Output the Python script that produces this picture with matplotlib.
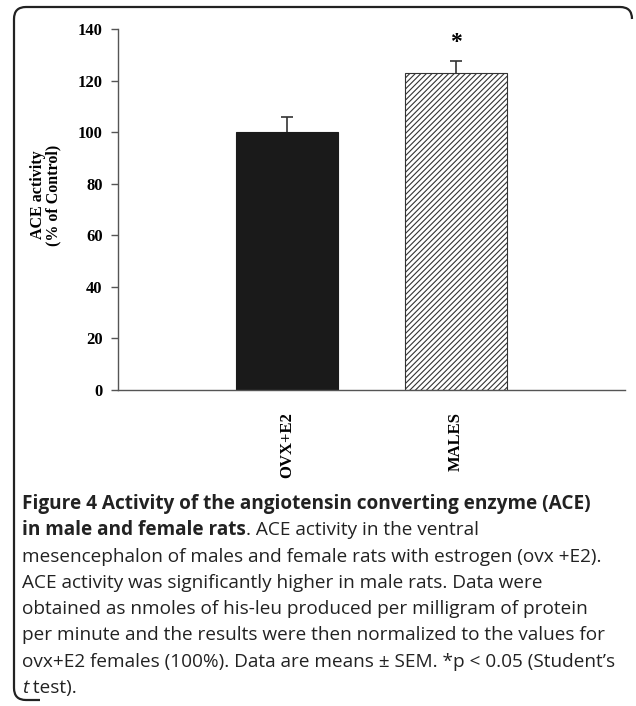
import matplotlib
matplotlib.use('Agg')
import matplotlib.pyplot as plt
from matplotlib.path import Path
from matplotlib.patches import PathPatch

# data
groups = ['OVX+E2', 'MALES']
activity = [100.0, 122.8]      # % of control
sem = [6.0, 4.8]
signif = ['', '*']

W, H = 636, 706
fig = plt.figure(figsize=(W / 100, H / 100), dpi=100)
plt.rcParams['hatch.linewidth'] = 0.8

def fx(px):
    return px / W

def fy(py):
    return 1 - py / H

# chart area (pixel box)
ax = fig.add_axes([fx(118), fy(390), fx(625) - fx(118), fy(29) - fy(390)])
serif = 'Liberation Serif'

pos = [1, 2]
# error bars go under the bars so only the upper half shows
ax.errorbar(pos, activity, yerr=sem, fmt='none', ecolor='#333333',
            elinewidth=1.2, capsize=4, capthick=1.2, zorder=1)
bars = ax.bar(pos, activity, width=0.6, color=['#1a1a1a', 'white'],
              edgecolor=['#1a1a1a', '#333333'], linewidth=0.8, zorder=2)
bars[1].set_hatch('//////')
for p, v, e, s in zip(pos, activity, sem, signif):
    if s:
        ax.annotate(s, (p, v + e), xytext=(0, 6), textcoords='offset points',
                    ha='center', va='bottom', fontsize=17, fontfamily=serif,
                    fontweight='bold')

ax.set_xlim(0, 3)
ax.set_ylim(0, 140)
ax.set_yticks(range(0, 141, 20))
ax.set_xticks(pos)
ax.set_xticklabels(groups, rotation=90, fontfamily=serif, fontweight='bold', fontsize=12)
ax.tick_params(axis='x', length=0, pad=16)
ax.tick_params(axis='y', length=5, width=1, color='#555555', pad=6)
for lbl in ax.get_yticklabels():
    lbl.set_fontfamily(serif)
    lbl.set_fontweight('bold')
    lbl.set_fontsize(12)
for side in ['top', 'right']:
    ax.spines[side].set_visible(False)
for side in ['left', 'bottom']:
    ax.spines[side].set_color('#555555')
    ax.spines[side].set_linewidth(1)
ax.set_ylabel('ACE activity\n(% of Control)', fontfamily=serif, fontweight='bold',
              fontsize=11.5, linespacing=0.95)
ax.yaxis.set_label_coords(-0.112, 0.54)

# rounded frame, open on the right as in the page scan
r = 12
verts = [(40, 700), (14 + r, 700), (14, 700), (14, 700 - r), (14, 7 + r), (14, 7), (14 + r, 7),
         (632 - r, 7), (632, 7), (632, 7 + r)]
codes = [Path.MOVETO, Path.LINETO, Path.CURVE3, Path.CURVE3, Path.LINETO, Path.CURVE3, Path.CURVE3,
         Path.LINETO, Path.CURVE3, Path.CURVE3]
verts = [(fx(x), fy(y)) for x, y in verts]
fig.add_artist(PathPatch(Path(verts, codes), transform=fig.transFigure,
                         fill=False, edgecolor='#222222', linewidth=1.6))

# caption
cap_font = 'Open Sans'
lines = [
    [('Figure 4 Activity of the angiotensin converting enzyme (ACE)', 'bold', 'normal')],
    [('in male and female rats', 'bold', 'normal'), ('. ACE activity in the ventral', 'normal', 'normal')],
    [('mesencephalon of males and female rats with estrogen (ovx +E2).', 'normal', 'normal')],
    [('ACE activity was significantly higher in male rats. Data were', 'normal', 'normal')],
    [('obtained as nmoles of his-leu produced per milligram of protein', 'normal', 'normal')],
    [('per minute and the results were then normalized to the values for', 'normal', 'normal')],
    [('ovx+E2 females (100%). Data are means \u00b1 SEM. *p < 0.05 (Student\u2019s', 'normal', 'normal')],
    [('t', 'normal', 'italic'), (' test).', 'normal', 'normal')],
]
renderer = fig.canvas.get_renderer()
# size the caption so the widest plain line spans the frame like the scan
probe = fig.text(0, 0, lines[6][0][0], fontfamily=cap_font, fontsize=10)
cap_size = 10 * 596 / probe.get_window_extent(renderer).width
probe.remove()

y0, dy = 504, 26.3
for i, parts in enumerate(lines):
    x = 22
    for txt, wt, st in parts:
        t = fig.text(fx(x), fy(y0 + i * dy), txt, fontfamily=cap_font, fontsize=cap_size,
                     fontweight=wt, fontstyle=st, va='center', ha='left', color='#222222')
        x += t.get_window_extent(renderer).width

fig.savefig('out.png', dpi=100)
